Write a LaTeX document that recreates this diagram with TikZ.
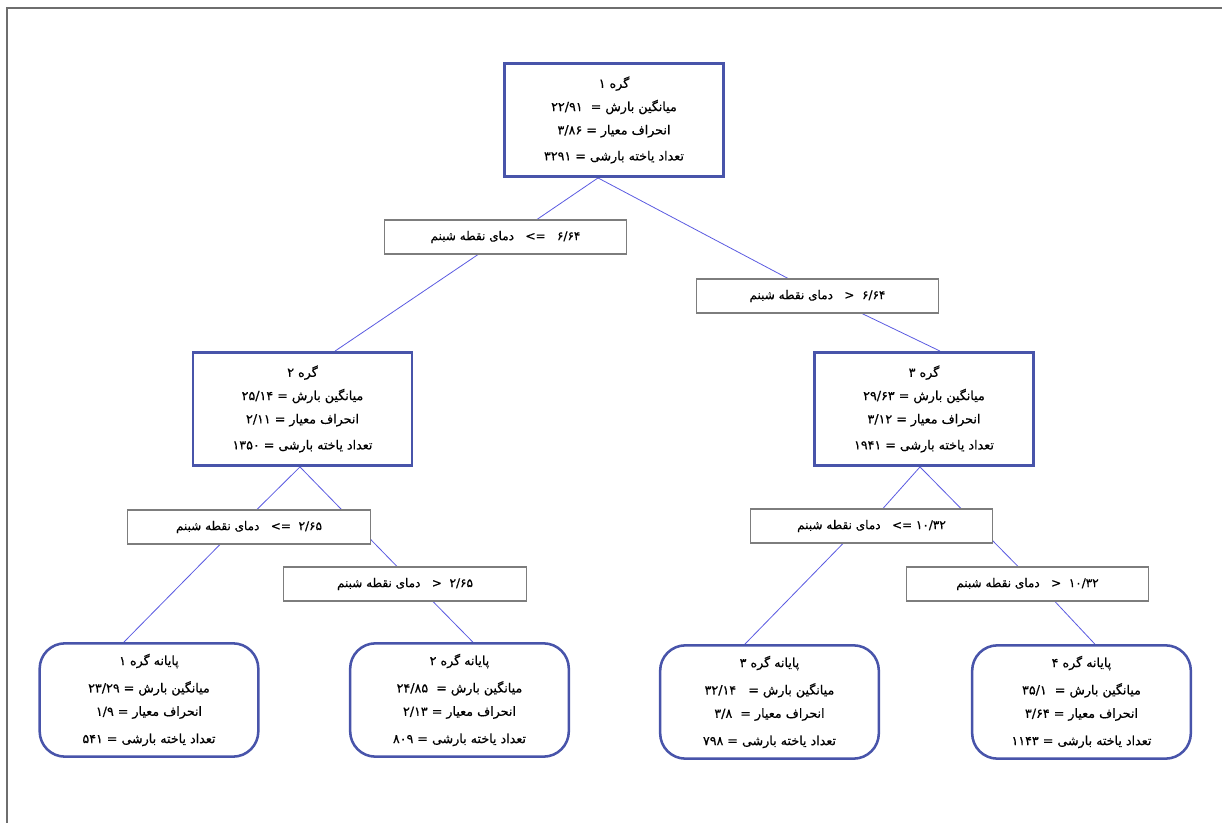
\documentclass[tikz,border=0pt]{standalone}
\usepackage{fontspec}
\newfontfamily\persianfont[Script=Arabic, FakeBold=0.6]{DejaVu Sans}
\TeXXeTstate=1
\usepackage{tikz}
\usetikzlibrary{positioning, backgrounds}
\definecolor{boxblue}{RGB}{72,84,170}
\definecolor{linkblue}{RGB}{90,90,225}
\definecolor{condgray}{RGB}{125,125,125}
\definecolor{framegray}{RGB}{110,110,110}
\newcommand{\rl}[1]{\beginR #1\endR}

\begin{document}
\begin{tikzpicture}[
    x=0.75pt, y=-0.75pt,
    group/.style={
        draw=boxblue,
        line width=1.9pt,
        fill=white,
        align=center,
        inner sep=0pt,
        minimum width=164pt,
        minimum height=85pt,
        font=\persianfont\fontsize{9.5}{17.5}\selectfont,
    },
    leaf/.style={group, rounded corners=19pt},
    cond/.style={
        draw=condgray,
        line width=0.8pt,
        fill=white,
        inner sep=0pt,
        minimum width=182pt,
        minimum height=25.5pt,
        font=\persianfont\fontsize{9}{10}\selectfont,
    },
    link/.style={draw=linkblue, line width=0.6pt},
    frame/.style={draw=framegray, line width=1.5pt}
]
\useasboundingbox (0,0) rectangle (1222,823);
\draw[frame] (7,823) -- (7,8) -- (1222,8);

% groups
\node[group] (root) at (614,120) {%
  \rl{گره ۱}\\
  \rl{میانگین بارش =\ \ ۲۲/۹۱}\\
  \rl{انحراف معیار = ۳/۸۶}\\[2pt]
  \rl{تعداد یاخته بارشی = ۳۲۹۱}%
};
\node[group] (n2) at (302.5,409) {%
  \rl{گره ۲}\\
  \rl{میانگین بارش = ۲۵/۱۴}\\
  \rl{انحراف معیار = ۲/۱۱}\\[2pt]
  \rl{تعداد یاخته بارشی = ۱۳۵۰}%
};
\node[group] (n3) at (924,409) {%
  \rl{گره ۳}\\
  \rl{میانگین بارش = ۲۹/۶۳}\\
  \rl{انحراف معیار = ۳/۱۲}\\[2pt]
  \rl{تعداد یاخته بارشی = ۱۹۴۱}%
};

% splits
\node[cond] (c1) at (505.5,237) {\rl{۶/۶۴\ \ \ =>\ \ \ دمای نقطه شبنم}};
\node[cond] (c2) at (817.5,296) {\rl{۶/۶۴\ \ <\ \ \ دمای نقطه شبنم}};
\node[cond] (c3) at (249,527) {\rl{۲/۶۵\ \ =>\ \ \ دمای نقطه شبنم}};
\node[cond] (c4) at (405,584) {\rl{۲/۶۵\ \ <\ \ \ دمای نقطه شبنم}};
\node[cond] (c5) at (871.5,526) {\rl{۱۰/۳۲\ =>\ \ \ دمای نقطه شبنم}};
\node[cond] (c6) at (1027.5,584) {\rl{۱۰/۳۲\ \ <\ \ \ دمای نقطه شبنم}};

% leaves
\node[leaf] (l1) at (149,700) {%
  \rl{پایانه گره ۱}\\[3pt]
  \rl{میانگین بارش =\ ۲۳/۲۹}\\
  \rl{انحراف معیار = ۱/۹}\\[3pt]
  \rl{تعداد یاخته بارشی = ۵۴۱}%
};
\node[leaf] (l2) at (459.5,700) {%
  \rl{پایانه گره ۲}\\[3pt]
  \rl{میانگین بارش =\ \ ۲۴/۸۵}\\
  \rl{انحراف معیار = ۲/۱۳}\\[3pt]
  \rl{تعداد یاخته بارشی = ۸۰۹}%
};
\node[leaf] (l3) at (769.5,702) {%
  \rl{پایانه گره ۳}\\[3pt]
  \rl{میانگین بارش =\ \ \ ۳۲/۱۴}\\
  \rl{انحراف معیار =\ \ ۳/۸}\\[3pt]
  \rl{تعداد یاخته بارشی = ۷۹۸}%
};
\node[leaf] (l4) at (1081.5,702) {%
  \rl{پایانه گره ۴}\\[3pt]
  \rl{میانگین بارش =\ \ ۳۵/۱}\\
  \rl{انحراف معیار = ۳/۶۴}\\[3pt]
  \rl{تعداد یاخته بارشی =\ ۱۱۴۳}%
};

\begin{scope}[on background layer]
\draw[link] ([xshift=-12pt]root.south) -- ([xshift=23.6pt]c1.north);
\draw[link] ([xshift=-12pt]root.south) -- ([xshift=-22.1pt]c2.north);
\draw[link] ([xshift=-20.6pt]c1.south) -- ([xshift=24.4pt]n2.north);
\draw[link] ([xshift=33.4pt]c2.south) -- ([xshift=12pt]n3.north);
\draw[link] ([xshift=-1.9pt]n2.south) -- ([xshift=6pt]c3.north);
\draw[link] ([xshift=-1.9pt]n2.south) -- ([xshift=-6pt]c4.north);
\draw[link] ([xshift=-21.8pt]c3.south) -- ([xshift=-18.8pt]l1.north);
\draw[link] ([xshift=21pt]c4.south) -- ([xshift=10pt]l2.north);
\draw[link] ([xshift=-3pt]n3.south) -- ([xshift=8.6pt]c5.north);
\draw[link] ([xshift=-3pt]n3.south) -- ([xshift=-7.1pt]c6.north);
\draw[link] ([xshift=-21.4pt]c5.south) -- ([xshift=-18.4pt]l3.north);
\draw[link] ([xshift=20.6pt]c6.south) -- ([xshift=10pt]l4.north);
\end{scope}
\end{tikzpicture}
\end{document}
